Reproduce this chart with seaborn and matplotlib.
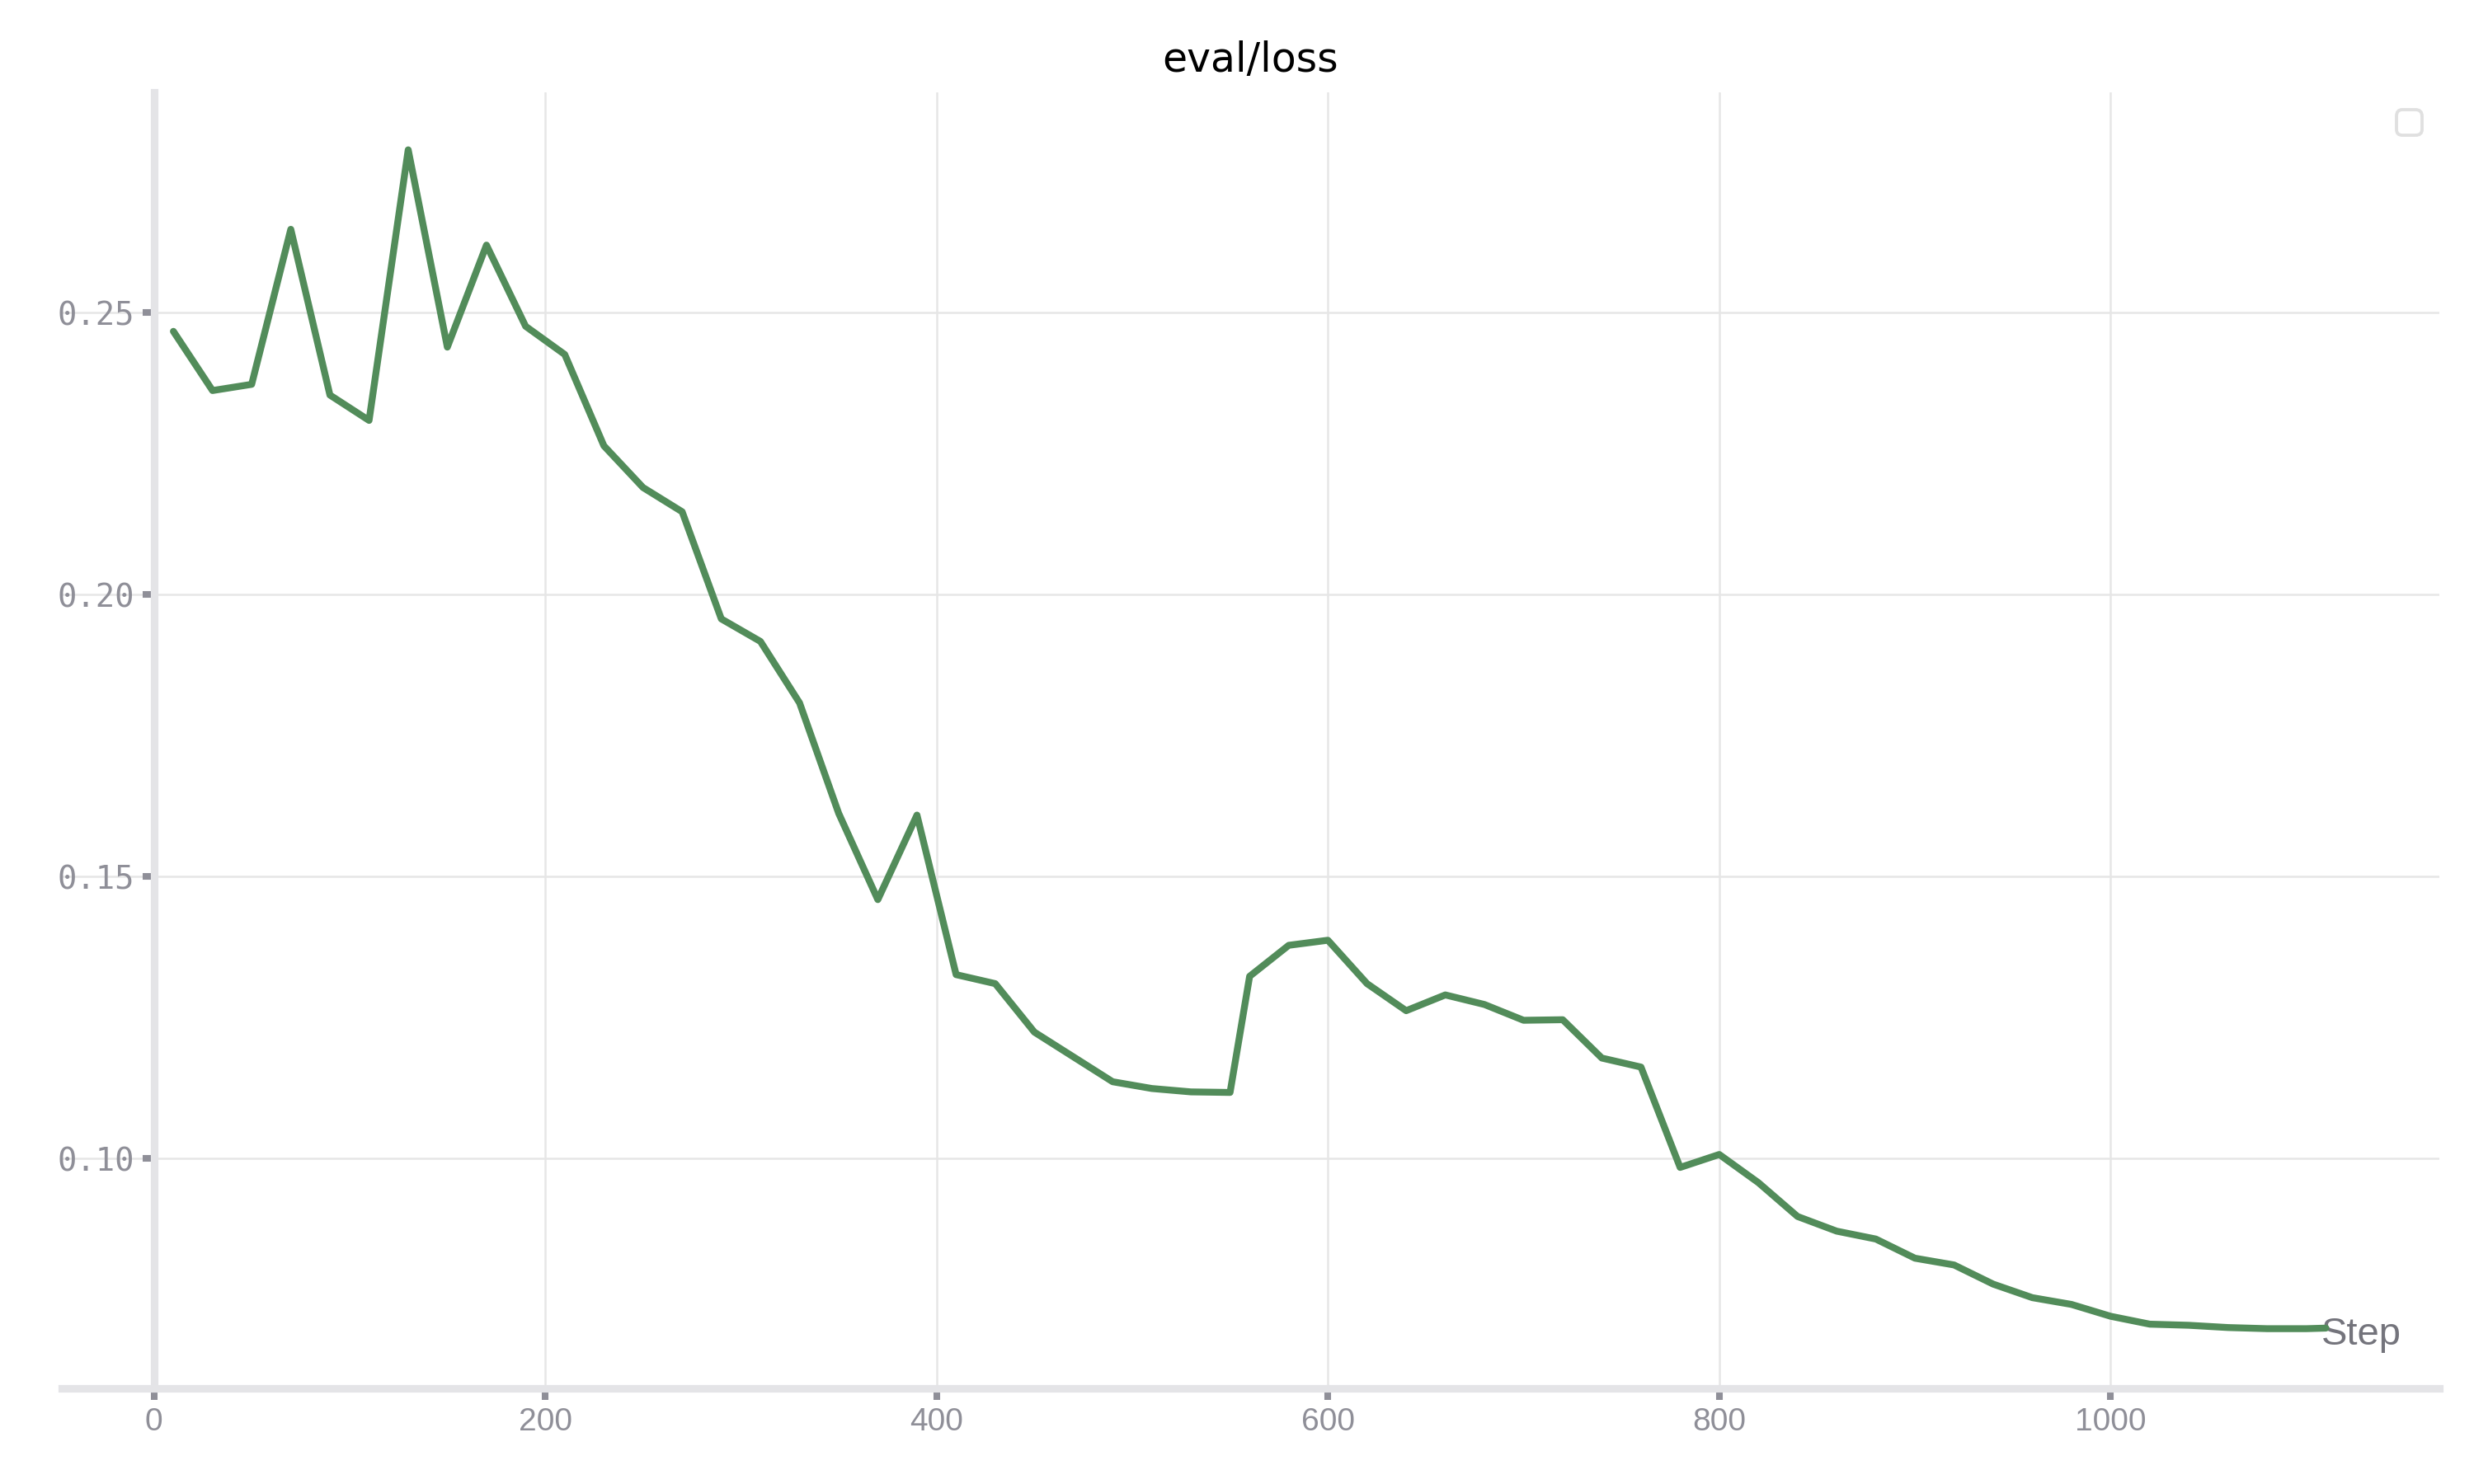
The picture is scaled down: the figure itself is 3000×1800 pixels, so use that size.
import pandas as pd
import matplotlib
matplotlib.use("Agg")
import matplotlib.pyplot as plt
import seaborn as sns

# eval/loss values
steps = [10, 30, 50, 70, 90, 110, 130, 150, 170, 190,
         210, 230, 250, 270, 290, 310, 330, 350, 370, 390,
         410, 430, 450, 470, 490, 510, 530, 550, 560, 580,
         600, 620, 640, 660, 680, 700, 720, 740, 760, 780,
         800, 820, 840, 860, 880, 900, 920, 940, 960, 980,
         1000, 1020, 1040, 1060, 1080, 1100, 1110]
loss = [0.2467, 0.2362, 0.2373, 0.2648, 0.2354, 0.2309, 0.2789, 0.2439, 0.2620, 0.2476,
        0.2426, 0.2264, 0.2190, 0.2147, 0.1957, 0.1917, 0.1808, 0.1612, 0.1459, 0.1609,
        0.1326, 0.1310, 0.1224, 0.1180, 0.1136, 0.1124, 0.1118, 0.1117, 0.1323, 0.1378,
        0.1387, 0.1310, 0.1262, 0.1290, 0.1273, 0.1245, 0.1246, 0.1178, 0.1162, 0.0984,
        0.1007, 0.0957, 0.0897, 0.0871, 0.0857, 0.0823, 0.0811, 0.0777, 0.0753, 0.0741,
        0.0720, 0.0706, 0.0704, 0.0700, 0.0698, 0.0698, 0.0699]
xticks = [0, 200, 400, 600, 800, 1000]
yticks = [0.10, 0.15, 0.20, 0.25]

df = pd.DataFrame({"Step": steps, "eval/loss": loss})

sns.set_theme(style="white")
plt.rcParams["font.family"] = ["DejaVu Sans"]

tick_grey = "#8f8f98"
spine_grey = "#e4e4e7"

fig = plt.figure(figsize=(15, 9), dpi=200)
ax = fig.add_axes([0.025, 0.0644, 0.961, 0.8734])

sns.lineplot(data=df, x="Step", y="eval/loss", color="#528c5a", linewidth=3.0, ax=ax)

ax.set_xlim(-47, 1168)
ax.set_ylim(0.0592, 0.2891)
ax.set_xticks(xticks)
ax.set_yticks(yticks)
ax.set_yticklabels([f"{v:.2f}" for v in yticks])

ax.grid(True, color="#e6e6e6", linewidth=0.9)
ax.set_axisbelow(True)

for side in ["top", "right"]:
    ax.spines[side].set_visible(False)
ax.spines["left"].set_position(("data", 0))
for side in ["left", "bottom"]:
    ax.spines[side].set_color(spine_grey)
    ax.spines[side].set_linewidth(3.3)

# ticks start under the thick spine, so make them long enough to show outside it
ax.tick_params(axis="both", which="major", direction="out", bottom=True, left=True,
               length=4.9, width=2.9, color=tick_grey, labelcolor=tick_grey, pad=3.4)
for lab in ax.get_xticklabels():
    lab.set_fontfamily(["Liberation Sans", "DejaVu Sans"])
    lab.set_fontsize(14)
for lab in ax.get_yticklabels():
    lab.set_fontfamily(["DejaVu Sans Mono", "DejaVu Sans"])
    lab.set_fontsize(14)

ax.set_title("eval/loss", fontsize=17.6, color="black", pad=9)
ax.set_ylabel("")
ax.set_xlabel("Step", fontsize=17, color="#74747c", family=["Liberation Sans", "DejaVu Sans"],
              ha="right", va="baseline")
ax.xaxis.set_label_coords(0.984, 0.0337)

leg = ax.legend(handles=[], loc="upper right", frameon=True, fancybox=True, fontsize=14,
                borderaxespad=0.55)
leg.get_frame().set_edgecolor("#d9d9d9")
leg.get_frame().set_linewidth(1.4)

fig.savefig("out.png", dpi=200)
